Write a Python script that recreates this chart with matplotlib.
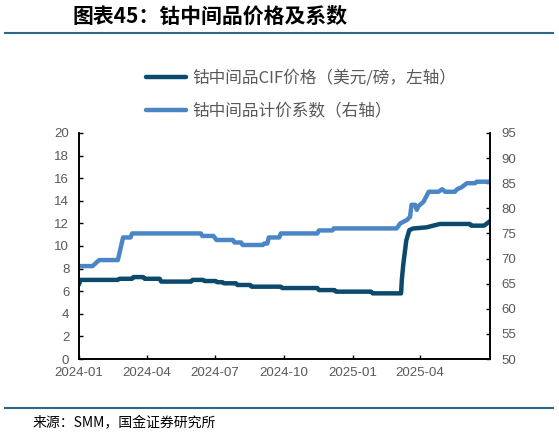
import matplotlib
matplotlib.use("Agg")
import matplotlib.pyplot as plt
import matplotlib.dates as mdates
import pandas as pd
from matplotlib.lines import Line2D

# Fontes
plt.rcParams["font.family"] = ["Liberation Sans", "Noto Sans CJK SC", "DejaVu Sans"]
cjk = ["Noto Sans CJK SC", "DejaVu Sans"]

# Dados: preço CIF do cobalto intermediário (eixo esquerdo)
cif_datas = ["2024-01-01", "2024-01-03", "2024-02-22", "2024-02-24", "2024-03-12", "2024-03-14",
             "2024-03-27", "2024-03-29", "2024-04-18", "2024-04-20", "2024-05-30", "2024-06-01",
             "2024-06-15", "2024-06-17", "2024-07-02", "2024-07-04", "2024-07-11", "2024-07-13",
             "2024-07-29", "2024-07-31", "2024-08-17", "2024-08-19", "2024-09-27", "2024-09-29",
             "2024-11-15", "2024-11-17", "2024-12-08", "2024-12-10", "2025-01-26", "2025-01-28",
             "2025-03-07", "2025-03-08", "2025-03-10", "2025-03-14", "2025-03-18", "2025-03-23",
             "2025-04-10", "2025-04-28", "2025-06-07", "2025-06-09", "2025-06-26", "2025-07-04"]
cif_valores = [6.6, 7.0, 7.0, 7.1, 7.1, 7.25,
               7.25, 7.1, 7.1, 6.85, 6.85, 7.0,
               7.0, 6.9, 6.9, 6.8, 6.8, 6.7,
               6.7, 6.55, 6.55, 6.4, 6.4, 6.28,
               6.28, 6.1, 6.1, 5.96, 5.96, 5.81,
               5.81, 7.0, 8.4, 10.5, 11.4, 11.55,
               11.65, 11.95, 11.95, 11.8, 11.8, 12.2]

# Dados: coeficiente de preço (eixo direito)
coef_datas = ["2024-01-01", "2024-01-19", "2024-01-28", "2024-02-22", "2024-02-29", "2024-03-10",
              "2024-03-12", "2024-06-12", "2024-06-14", "2024-06-29", "2024-07-03", "2024-07-25",
              "2024-07-27", "2024-08-05", "2024-08-07", "2024-09-03", "2024-09-05", "2024-09-09",
              "2024-09-11", "2024-09-25", "2024-09-27", "2024-11-15", "2024-11-17", "2024-12-05",
              "2024-12-07", "2025-03-01", "2025-03-06", "2025-03-15", "2025-03-19", "2025-03-21",
              "2025-03-26", "2025-03-28", "2025-03-30", "2025-04-06", "2025-04-13", "2025-04-26",
              "2025-05-01", "2025-05-05", "2025-05-18", "2025-05-21", "2025-05-27", "2025-06-03",
              "2025-06-14", "2025-06-16", "2025-07-04"]
coef_valores = [68.5, 68.5, 69.7, 69.7, 74.2, 74.2,
                75.0, 75.0, 74.5, 74.5, 73.7, 73.7,
                73.2, 73.2, 72.7, 72.7, 73.0, 73.0,
                74.2, 74.2, 75.0, 75.0, 75.6, 75.6,
                76.0, 76.0, 77.0, 77.7, 78.3, 80.7,
                80.7, 79.7, 80.4, 81.3, 83.3, 83.3,
                83.8, 83.3, 83.3, 83.8, 84.2, 85.0,
                85.0, 85.3, 85.3]

x_ticks = ["2024-01", "2024-04", "2024-07", "2024-10", "2025-01", "2025-04"]

cif_datas = pd.to_datetime(cif_datas)
coef_datas = pd.to_datetime(coef_datas)

cor_escura = "#0b4a6d"
cor_clara = "#4a86c5"
cinza = "#595959"

fig = plt.figure(figsize=(5.59, 4.36), dpi=100)
ax = fig.add_axes([79 / 559, 1 - 359 / 436, 411 / 559, 226 / 436])
ax2 = ax.twinx()

l1, = ax.plot(cif_datas, cif_valores, color=cor_escura, lw=3.2, solid_capstyle="round")
l2, = ax2.plot(coef_datas, coef_valores, color=cor_clara, lw=3.2, solid_capstyle="round")
ax.set_zorder(ax2.get_zorder() + 1)
ax.patch.set_visible(False)

# Eixos
ax.set_xlim(pd.Timestamp("2024-01-01"), pd.Timestamp("2025-07-04"))
ax.set_ylim(0, 20)
ax.set_yticks(range(0, 21, 2))
ax2.set_ylim(50, 95)
ax2.set_yticks(range(50, 96, 5))
ax.set_xticks(pd.to_datetime(x_ticks))
ax.xaxis.set_major_formatter(mdates.DateFormatter("%Y-%m"))

for a in (ax, ax2):
    a.spines["top"].set_visible(False)
    for s in a.spines.values():
        s.set_linewidth(1.2)
    a.tick_params(direction="in", length=3, width=1, colors="black",
                  labelcolor=cinza, labelsize=9.5)
ax.tick_params(axis="x", pad=6)
ax.tick_params(axis="y", pad=7)
ax2.tick_params(axis="y", pad=8)

# Legenda
fig.legend([l1, l2], ["钴中间品CIF价格（美元/磅，左轴）", "钴中间品计价系数（右轴）"],
           loc="center left", bbox_to_anchor=(146 / 559, 1 - 95 / 436),
           frameon=False, handlelength=2.4, handletextpad=0.4, labelspacing=1.0,
           borderpad=0, borderaxespad=0, labelcolor=cinza,
           prop={"family": cjk, "size": 12})

# Título, linhas e fonte
fig.text(72 / 559, 1 - 16 / 436, "图表45：钴中间品价格及系数", family=cjk, fontsize=15,
         fontweight="bold", style="italic", va="center", ha="left", color="black")
fig.add_artist(Line2D([5 / 559, 553 / 559], [1 - 33 / 436] * 2, color="#2e6886", lw=1.5))
fig.add_artist(Line2D([5 / 559, 553 / 559], [1 - 408 / 436] * 2, color="#2e6886", lw=1.5))
fig.text(33 / 559, 1 - 423 / 436, "来源：SMM，国金证券研究所", family=cjk, fontsize=10,
         va="center", ha="left", color="black")

plt.savefig("out.png", dpi=100)
